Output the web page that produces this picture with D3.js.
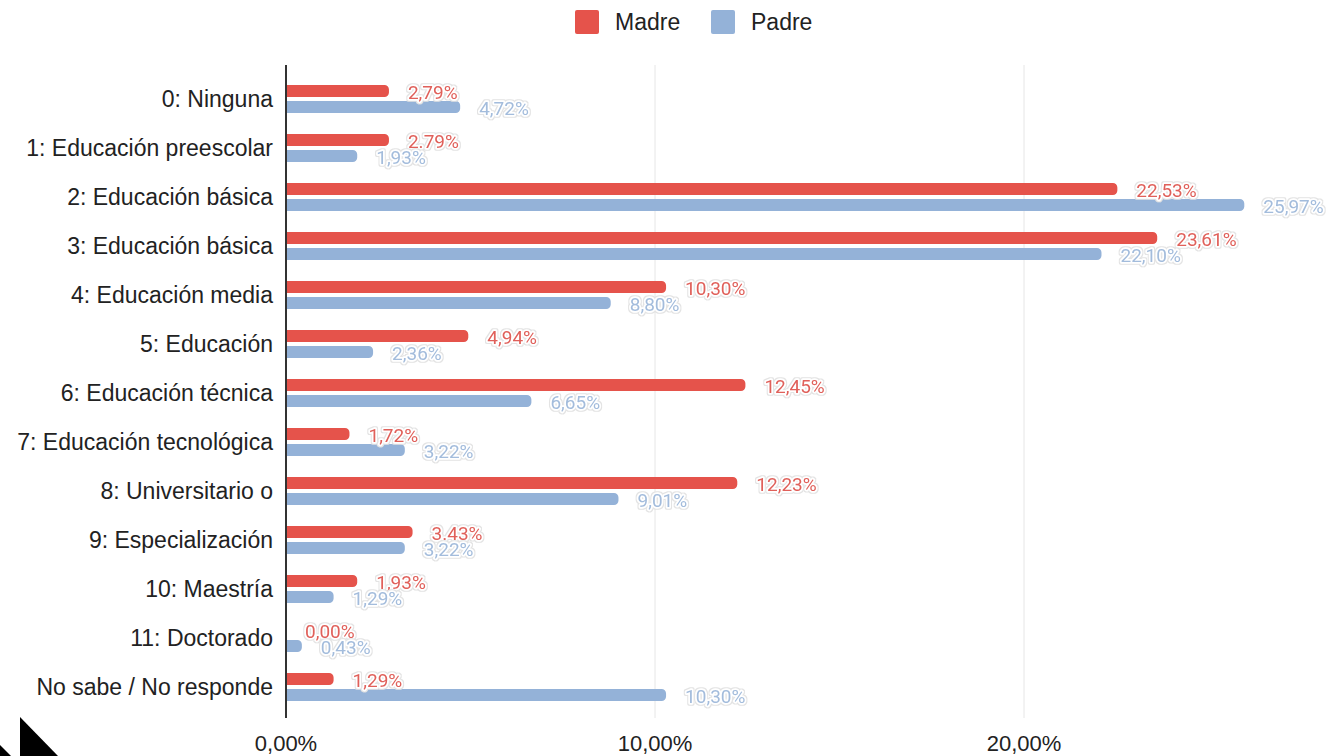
<!DOCTYPE html>
<html><head><meta charset="utf-8">
<script src="https://cdn.jsdelivr.net/npm/d3@7"></script>
<style>
html,body{margin:0;padding:0;background:#fff;}
svg{display:block;}
</style></head>
<body>
<svg id="chart" width="1328" height="756"></svg>
<script>
const categories = ["0: Ninguna","1: Educación preescolar","2: Educación básica","3: Educación básica","4: Educación media","5: Educación","6: Educación técnica","7: Educación tecnológica","8: Universitario o","9: Especialización","10: Maestría","11: Doctorado","No sabe / No responde"];
const seriesNames = ["Madre","Padre"];
const madre = [2.79,2.79,22.53,23.61,10.30,4.94,12.45,1.72,12.23,3.43,1.93,0.00,1.29];
const padre = [4.72,1.93,25.97,22.10,8.80,2.36,6.65,3.22,9.01,3.22,1.29,0.43,10.30];
const madreLabels = ["2,79%","2.79%","22,53%","23,61%","10,30%","4,94%","12,45%","1,72%","12,23%","3.43%","1,93%","0,00%","1,29%"];
const padreLabels = ["4,72%","1,93%","25,97%","22,10%","8,80%","2,36%","6,65%","3,22%","9,01%","3,22%","1,29%","0,43%","10,30%"];
const tickValues = [0,10,20];
const tickLabels = ["0,00%","10,00%","20,00%"];

const colors = {Madre:"#e5534b", Padre:"#94b2d8"};
const labelColors = {Madre:"#e0605a", Padre:"#a3bcdc"};

const svg = d3.select("#chart");
const defs = svg.append("defs");
const f = defs.append("filter").attr("id","halo").attr("x","-20%").attr("y","-50%").attr("width","140%").attr("height","200%");
f.append("feMorphology").attr("in","SourceAlpha").attr("operator","dilate").attr("radius",0.8).attr("result","d");
f.append("feFlood").attr("flood-color","#e3e3e3").attr("result","g");
f.append("feComposite").attr("in","g").attr("in2","d").attr("operator","in").attr("result","outline");
f.append("feMerge").selectAll("feMergeNode").data(["outline","SourceGraphic"]).join("feMergeNode").attr("in",d=>d);

const x = d3.scaleLinear().domain([0,10]).range([286,655]);
const y = d3.scaleBand().domain(categories).range([74.5,711.5]);
const ySub = d3.scaleBand().domain(seriesNames).range([-14,14]).paddingInner(0.25);

// gridlines
svg.append("g").selectAll("line").data(tickValues.filter(v=>v>0)).join("line")
  .attr("x1",d=>x(d)).attr("x2",d=>x(d)).attr("y1",65).attr("y2",718)
  .attr("stroke","#e6e6e6").attr("stroke-width",1);

const rows = categories.map((c,i)=>({cat:c, vals:[
  {s:"Madre", v:madre[i], l:madreLabels[i]},
  {s:"Padre", v:padre[i], l:padreLabels[i]}]}));

function barPath(x0,x1,y0,h,r){
  const w = x1-x0;
  if (w<=0) return "";
  r = Math.min(r, w, h/2);
  return `M${x0},${y0}H${x1-r}A${r},${r} 0 0 1 ${x1},${y0+r}V${y0+h-r}A${r},${r} 0 0 1 ${x1-r},${y0+h}H${x0}Z`;
}

const rowG = svg.append("g").selectAll("g").data(rows).join("g")
  .attr("transform",d=>`translate(0,${y(d.cat)+y.bandwidth()/2})`);

rowG.selectAll("path.bar").data(d=>d.vals).join("path").attr("class","bar")
  .attr("d",d=>barPath(x(0),x(d.v),ySub(d.s),ySub.bandwidth(),4.5))
  .attr("fill",d=>colors[d.s]);

// labels with halo
rowG.selectAll("text.lab").data(d=>d.vals).join("text").attr("class","lab")
  .attr("x",d=>x(d.v)+19).attr("y",d=>ySub(d.s)+ySub.bandwidth()/2+1)
  .attr("dominant-baseline","central")
  .attr("font-family","Roboto, 'Noto Sans', sans-serif").attr("font-size",19)
  .attr("fill",d=>labelColors[d.s])
  .attr("stroke","#fff").attr("stroke-width",3.5).attr("stroke-linejoin","round")
  .attr("paint-order","stroke")
  .attr("filter","url(#halo)")
  .text(d=>d.l);

// axis line
svg.append("line").attr("x1",x(0)).attr("x2",x(0)).attr("y1",65).attr("y2",718)
  .attr("stroke","#333").attr("stroke-width",2);

// category labels
svg.append("g").selectAll("text").data(categories).join("text")
  .attr("x",x(0)-13).attr("y",d=>y(d)+y.bandwidth()/2)
  .attr("dy","0.36em").attr("text-anchor","end")
  .attr("font-family","'Liberation Sans', Arial, sans-serif").attr("font-size",23)
  .attr("fill","#222").text(d=>d);

// tick labels
svg.append("g").selectAll("text").data(tickValues).join("text")
  .attr("x",d=>x(d)).attr("y",751).attr("text-anchor","middle")
  .attr("font-family","'Liberation Sans', Arial, sans-serif").attr("font-size",22)
  .attr("fill","#222").text((d,i)=>tickLabels[i]);

// legend
const leg = svg.append("g");
const legX = [575,711];
seriesNames.forEach((s,i)=>{
  leg.append("rect").attr("x",legX[i]).attr("y",10).attr("width",24).attr("height",24)
    .attr("rx",2).attr("fill",colors[s]);
  leg.append("text").attr("x",legX[i]+40).attr("y",22).attr("dy","0.36em")
    .attr("font-family","'Liberation Sans', Arial, sans-serif").attr("font-size",23)
    .attr("fill","#222").text(s);
});

// corner logo
svg.append("path").attr("d","M20,717L58,756L20,756Z").attr("fill","#000");
svg.append("path").attr("d","M0,745L11,756L0,756Z").attr("fill","#000");
</script>
</body></html>
